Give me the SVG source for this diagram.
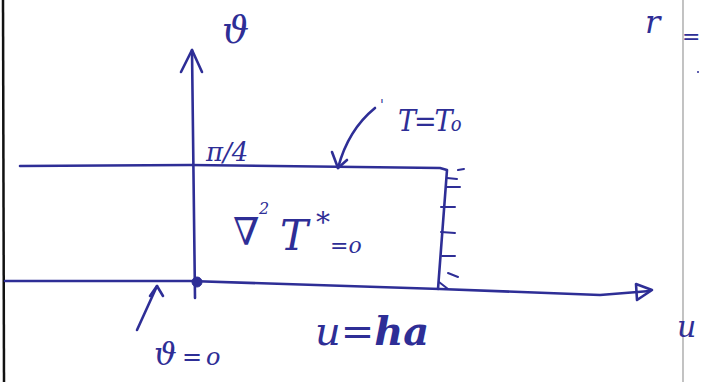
<svg xmlns="http://www.w3.org/2000/svg" width="704" height="382" viewBox="0 0 704 382">
<style>
.ink{fill:none;stroke:#2e2e96;stroke-width:2.6;stroke-linecap:round;stroke-linejoin:round}
.thin{fill:none;stroke:#2e2e96;stroke-width:2;stroke-linecap:round}
.t{fill:#2e2e96;font-family:"DejaVu Serif",serif;font-style:italic}
</style>
<rect width="704" height="382" fill="#ffffff"/>
<line x1="3" y1="0" x2="4" y2="382" stroke="#111" stroke-width="2.5"/>
<line x1="683" y1="0" x2="683" y2="382" stroke="#9a9a9a" stroke-width="1.2"/>
<g id="axes">
<path class="ink" d="M192,50 L195,298"/>
<path class="ink" d="M181,72 L192,50 L202,72"/>
<path class="ink" d="M5,281 L190,281 L440,289 L600,295 L650,291"/>
<path class="ink" d="M636,284 L652,290 L637,300 Z"/>
<circle cx="197" cy="282" r="5" fill="#2e2e96" stroke="#2e2e96" stroke-width="1"/>
</g>
<g id="region">
<path class="ink" d="M20,166 L190,165 L440,168 L447,170 L438,289"/>
<path class="thin" d="M447,178 L457,179 M447,187 L460,187 M441,207 L455,207 M441,232 L455,233 M442,256 L455,256 M448,273 L458,277 M439,282 L448,289 M458,170 L464,169"/>
</g>
<g id="connectors">
<path class="ink" d="M375,108 Q348,130 338,168"/>
<path class="ink" d="M332,152 L338,168 L347,160"/>
<path class="ink" d="M137,330 L157,286"/>
<path class="ink" d="M150,296 L157,286 L163,296"/>
</g>
<g id="labels">
<text class="t" x="222" y="43" font-size="38">ϑ</text>
<text class="t" x="206" y="161" font-size="26">π/4</text>
<text class="t" x="380" y="110" font-size="14">'</text>
<text class="t" x="398" y="131" font-size="30" letter-spacing="-2" style="font-family:'DejaVu Serif Condensed','DejaVu Serif',serif">T=T<tspan font-size="20" letter-spacing="0">o</tspan></text>
<text class="t" x="233" y="245" font-size="38">∇</text>
<text class="t" x="259" y="214" font-size="16">2</text>
<text class="t" x="280" y="250" font-size="42">T</text>
<text class="t" x="316" y="232" font-size="28">*</text>
<text class="t" x="330" y="253" font-size="22">=o</text>
<text class="t" x="154" y="365" font-size="32">ϑ</text>
<text class="t" x="182" y="365" font-size="24" letter-spacing="4">=o</text>
<text class="t" x="315" y="345" font-size="40">u=<tspan font-weight="bold">ha</tspan></text>
<text class="t" x="645" y="33" font-size="32">r</text>
<text class="t" x="682" y="44" font-size="22">=</text>
<circle cx="698" cy="72" r="1" fill="#2e2e96"/>
<text class="t" x="677" y="337" font-size="30">u</text>
</g>
</svg>
